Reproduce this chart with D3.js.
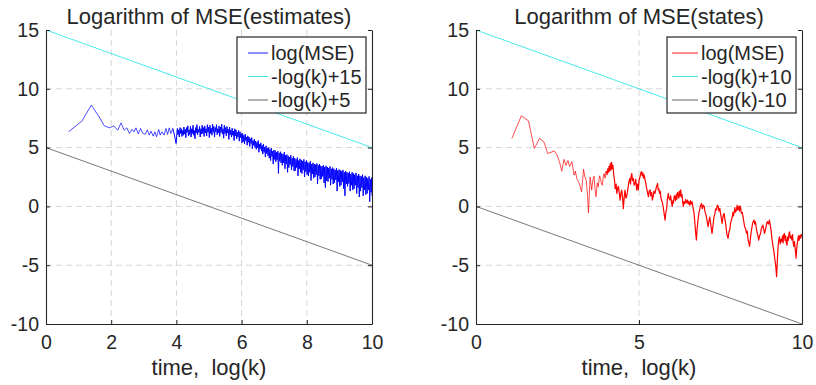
<!DOCTYPE html>
<html>
<head>
<meta charset="utf-8">
<script src="https://cdn.jsdelivr.net/npm/d3@7"></script>
<style>
  body { margin: 0; background: #fff; }
  svg text { font-family: "Liberation Sans", Arial, Helvetica, sans-serif; fill: #262626; }
</style>
</head>
<body>
<div id="chart"></div>
<script>
// ---- data ----
const yTicks = [-10, -5, 0, 5, 10, 15];
const xTicksEst = [0, 2, 4, 6, 8, 10];
const xTicksState = [0, 5, 10];

const titles = ["Logarithm of MSE(estimates)", "Logarithm of MSE(states)"];
const xLabel = "time,  log(k)";
const legendEst = ["log(MSE)", "-log(k)+15", "-log(k)+5"];
const legendState = ["log(MSE)", "-log(k)+10", "-log(k)-10"];

// reference lines, [t, value] end points
const estUpper = [[0, 15], [10, 5]];
const estLower = [[0, 5], [10, -5]];
const stateUpper = [[0, 15], [10, 5]];
const stateLower = [[0, 0], [10, -10]];

// log(MSE) of estimates, [log(k), value]
const estMse = [
  [0.69,6.34],[1.10,7.25],[1.39,8.61],[1.61,7.70],[1.79,6.85],[1.95,6.68],[2.08,6.85],[2.20,6.48],[2.30,7.1],[2.40,6.48],
  [2.48,6.68],[2.56,6.2],[2.64,6.55],[2.70,6.34],[2.76,6.68],[2.83,6.17],[2.90,6.63],[2.96,6.26],[3.04,6.12],[3.11,6.5],
  [3.17,6.06],[3.22,6.4],[3.29,5.97],[3.34,6.34],[3.39,5.92],[3.46,6.54],[3.50,6.06],[3.56,6.34],[3.62,6.06],[3.68,6.63],
  [3.73,6.12],[3.78,6.68],[3.83,6.2],[3.89,6.63],[3.94,6.06],[3.99,5.35],
  [4.03,6.63],[4.05,6.1],[4.07,6.5],[4.09,5.9],[4.11,6.7],[4.13,6.2],[4.15,6.6],[4.17,5.95],[4.19,6.45],[4.21,6.05],
  [4.23,6.75],[4.25,6.15],[4.27,6.55],[4.29,5.85],[4.31,6.7],[4.33,6.3],[4.35,6.85],[4.37,6.0],[4.39,6.5],[4.41,6.1],
  [4.43,6.8],[4.45,5.9],[4.47,6.6],[4.49,6.2],[4.51,6.9],[4.53,6.05],[4.55,6.45],[4.57,5.75],[4.59,6.7],[4.61,6.25],
  [4.63,6.95],[4.65,6.1],[4.67,6.55],[4.69,6.3],[4.71,6.8],[4.73,5.9],[4.75,6.6],[4.77,6.15],[4.79,6.9],[4.81,6.2],
  [4.83,6.7],[4.85,5.95],[4.87,6.85],[4.89,6.25],[4.91,6.6],[4.93,6.0],[4.95,6.95],[4.97,6.3],[4.99,6.75],[5.01,5.85],
  [5.03,6.9],[5.05,6.2],[5.07,6.65],[5.09,6.05],[5.11,7.0],[5.13,6.3],[5.15,6.8],[5.17,5.9],[5.19,6.7],[5.21,6.35],
  [5.23,6.95],[5.25,6.1],[5.27,6.6],[5.29,6.25],[5.31,6.85],[5.33,5.95],[5.35,6.75],[5.37,6.3],[5.39,7.0],[5.41,6.15],
  [5.43,6.6],[5.45,5.8],[5.47,6.9],[5.49,6.2],[5.51,6.7],[5.53,6.0],[5.55,6.8],[5.57,6.25],[5.59,6.55],[5.61,5.7],
  [5.63,6.75],[5.65,6.1],[5.67,6.5],[5.69,5.9],[5.71,6.65],[5.73,6.05],[5.75,6.4],[5.77,5.6],[5.79,6.6],[5.81,6.0],
  [5.83,6.5],[5.85,5.75],[5.87,6.3],[5.89,5.9],[5.91,6.45],[5.93,5.55],[5.95,6.35],[5.97,5.85],[5.99,6.2],[6.01,5.4],
  [6.03,6.2],[6.05,5.5],[6.07,6.05],[6.09,5.3],[6.11,6.15],[6.13,5.6],[6.15,5.9],[6.17,5.2],[6.19,6.0],[6.21,5.45],
  [6.23,5.9],[6.25,5.1],[6.27,5.75],[6.29,5.35],[6.31,5.85],[6.33,4.9],[6.35,5.6],[6.37,5.2],[6.39,5.7],[6.41,5.0],
  [6.43,5.55],[6.45,4.85],[6.47,5.45],[6.49,5.0],[6.51,5.6],[6.53,4.6],[6.55,5.3],[6.57,4.9],[6.59,5.4],[6.61,4.7],
  [6.63,5.2],[6.65,4.45],[6.67,5.3],[6.69,4.6],[6.71,5.05],[6.73,4.2],[6.75,5.15],[6.77,4.5],[6.79,4.95],[6.81,4.3],
  [6.83,5.0],[6.85,4.1],[6.87,4.85],[6.89,3.9],[6.91,4.95],[6.93,4.25],[6.95,4.7],[6.97,3.6],[6.99,4.8],[7.01,4.0],
  [7.03,4.75],[7.05,3.8],[7.07,4.6],[7.09,3.95],[7.11,4.7],[7.13,2.8],[7.15,4.55],[7.17,3.85],[7.19,4.65],[7.21,3.7],
  [7.23,4.5],[7.25,3.5],[7.27,4.45],[7.29,3.7],[7.31,4.6],[7.33,3.2],[7.35,4.35],[7.37,3.6],[7.39,4.4],[7.41,2.9],
  [7.43,4.3],[7.45,3.3],[7.47,4.2],[7.49,3.55],[7.51,4.35],[7.53,3.1],[7.55,4.1],[7.57,3.4],[7.59,4.25],[7.61,3.0],
  [7.63,4.1],[7.65,3.05],[7.67,4.0],[7.69,3.3],[7.71,4.15],[7.73,2.6],[7.75,3.9],[7.77,3.2],[7.79,4.05],[7.81,2.9],
  [7.83,3.95],[7.85,2.8],[7.87,3.85],[7.89,3.1],[7.91,4.0],[7.93,2.5],[7.95,3.8],[7.97,2.95],[7.99,3.9],[8.01,2.7],
  [8.03,3.75],[8.05,2.6],[8.07,3.7],[8.09,2.9],[8.11,3.85],[8.13,2.2],[8.15,3.6],[8.17,2.75],[8.19,3.7],[8.21,2.4],
  [8.23,3.6],[8.25,2.5],[8.27,3.55],[8.29,2.7],[8.31,3.65],[8.33,1.9],[8.35,3.5],[8.37,2.6],[8.39,3.6],[8.41,2.3],
  [8.43,3.45],[8.45,2.35],[8.47,3.4],[8.49,2.55],[8.51,3.5],[8.53,2.0],[8.55,3.35],[8.57,1.6],[8.59,3.45],[8.61,2.2],
  [8.63,3.35],[8.65,2.1],[8.67,3.25],[8.69,2.4],[8.71,3.4],[8.73,1.8],[8.75,3.2],[8.77,2.3],[8.79,3.3],[8.81,1.9],
  [8.83,3.2],[8.85,2.0],[8.87,3.1],[8.89,2.25],[8.91,3.25],[8.93,1.3],[8.95,3.05],[8.97,2.1],[8.99,3.15],[9.01,1.7],
  [9.03,3.05],[9.05,1.8],[9.07,3.0],[9.09,2.1],[9.11,3.1],[9.13,1.5],[9.15,2.9],[9.17,0.9],[9.19,3.0],[9.21,1.9],
  [9.23,2.9],[9.25,1.7],[9.27,2.85],[9.29,1.95],[9.31,2.95],[9.33,1.3],[9.35,2.75],[9.37,1.8],[9.39,2.9],[9.41,1.4],
  [9.43,2.8],[9.45,1.5],[9.47,2.7],[9.49,1.8],[9.51,2.85],[9.53,1.1],[9.55,2.6],[9.57,1.6],[9.59,2.75],[9.61,0.8],
  [9.63,2.6],[9.65,1.3],[9.67,2.55],[9.69,1.6],[9.71,2.7],[9.73,0.9],[9.75,2.45],[9.77,1.4],[9.79,2.6],[9.81,1.0],
  [9.83,2.5],[9.85,1.1],[9.87,2.4],[9.89,1.4],[9.91,2.55],[9.93,0.4],[9.95,2.3],[9.97,1.2],[9.99,2.45],[10.0,0.9]
];

// log(MSE) of states, [log(k), value]
const stateMse = [
  [1.10,5.78],[1.39,7.70],[1.61,7.27],[1.79,4.93],[1.95,5.78],[2.08,5.5],[2.20,4.5],[2.30,4.6],[2.40,4.72],[2.48,4.4],
  [2.56,3.8],[2.63,3.0],[2.70,4.0],[2.76,3.49],[2.82,3.9],[2.87,3.4],[2.94,3.8],[3.01,2.66],[3.05,3.0],[3.09,2.38],
  [3.17,1.95],[3.24,1.24],[3.30,3.17],[3.34,2.5],[3.38,2.24],[3.42,1.0],[3.45,-0.54],[3.50,2.5],[3.55,1.38],[3.58,2.2],
  [3.62,2.57],[3.65,1.5],[3.68,0.82],[3.72,2.0],[3.75,1.66],[3.79,2.6],[3.82,2.37],[3.85,1.9],[3.88,1.8],[3.90,2.5],
  [3.93,2.8],[3.96,2.4],[3.99,3.0],[4.02,2.7],[4.04,3.2],[4.06,2.9],[4.08,3.4],[4.10,3.0],[4.12,3.65],[4.14,3.1],
  [4.16,3.75],[4.18,3.2],[4.20,3.5],[4.22,2.8],[4.25,2.2],[4.27,1.5],[4.30,1.9],[4.32,1.1],[4.35,1.6],[4.37,1.7],
  [4.40,1.0],[4.42,0.53],[4.45,1.2],[4.47,1.38],[4.50,0.6],[4.52,-0.19],[4.55,0.9],[4.57,1.38],[4.60,0.7],[4.62,0.82],
  [4.65,1.3],[4.67,1.7],[4.69,2.1],[4.72,2.37],[4.74,1.9],[4.76,2.6],[4.78,2.8],[4.80,2.2],[4.83,2.37],[4.85,1.8],
  [4.88,1.95],[4.90,2.3],[4.93,1.4],[4.95,1.9],[4.98,1.4],[5.00,2.2],[5.03,2.5],[5.06,2.9],[5.08,2.94],[5.10,2.6],
  [5.12,2.85],[5.14,2.4],[5.16,2.66],[5.19,2.2],[5.21,1.95],[5.23,1.6],[5.26,1.2],[5.29,0.82],[5.31,1.3],[5.34,1.4],
  [5.36,0.9],[5.39,1.2],[5.41,0.54],[5.44,0.9],[5.46,1.3],[5.49,1.1],[5.52,1.5],[5.54,1.7],[5.57,1.95],[5.59,1.4],
  [5.61,1.5],[5.63,1.1],[5.65,1.3],[5.67,0.8],[5.69,0.54],[5.72,0.3],[5.74,0.0],[5.77,-0.6],[5.80,-1.16],[5.82,-0.6],
  [5.85,-0.17],[5.87,0.6],[5.90,1.1],[5.92,0.7],[5.95,0.54],[5.97,0.9],[6.00,0.3],[6.02,0.0],[6.04,0.5],[6.06,0.3],
  [6.08,0.9],[6.10,0.82],[6.12,0.5],[6.14,1.0],[6.16,0.6],[6.18,1.2],[6.20,1.1],[6.22,0.7],[6.24,1.3],[6.26,0.9],
  [6.28,1.4],[6.30,0.8],[6.32,1.0],[6.34,0.4],[6.36,0.0],[6.38,0.4],[6.41,0.25],[6.43,0.6],[6.46,0.3],[6.49,0.54],
  [6.51,0.2],[6.53,0.4],[6.56,0.1],[6.58,0.5],[6.60,0.2],[6.63,0.4],[6.65,0.0],[6.67,-0.3],[6.69,-0.6],[6.72,-1.6],
  [6.74,-2.3],[6.76,-2.86],[6.78,-2.0],[6.81,-1.16],[6.83,-0.7],[6.85,-0.4],[6.87,-0.17],[6.89,0.1],[6.92,0.25],[6.94,-0.2],
  [6.97,0.1],[7.00,0.0],[7.02,-0.4],[7.05,-0.7],[7.07,-0.9],[7.10,-1.4],[7.12,-1.73],[7.15,-1.2],[7.17,-0.9],[7.20,-1.5],
  [7.22,-1.9],[7.24,-2.3],[7.27,-1.6],[7.30,-0.9],[7.33,-0.6],[7.35,-0.2],[7.38,-0.3],[7.40,0.1],[7.43,0.0],[7.45,-0.4],
  [7.48,-0.17],[7.50,-0.6],[7.52,-0.9],[7.55,-1.45],[7.57,-1.0],[7.59,-0.7],[7.61,-0.6],[7.63,-1.0],[7.66,-1.5],[7.68,-2.0],
  [7.70,-2.4],[7.73,-2.72],[7.76,-2.2],[7.79,-1.88],[7.81,-1.4],[7.84,-1.1],[7.86,-0.9],[7.88,-0.5],[7.90,-0.8],[7.92,-0.45],
  [7.94,-0.1],[7.96,-0.5],[7.99,-0.3],[8.01,0.1],[8.03,-0.3],[8.06,0.0],[8.08,-0.4],[8.10,0.05],[8.12,-0.17],[8.14,-0.6],
  [8.17,-0.5],[8.19,-0.9],[8.21,-1.2],[8.24,-1.73],[8.27,-1.9],[8.30,-2.3],[8.32,-2.1],[8.35,-2.9],[8.37,-3.1],[8.39,-3.4],
  [8.42,-2.7],[8.44,-2.2],[8.46,-1.88],[8.48,-1.5],[8.50,-1.3],[8.53,-1.16],[8.55,-1.5],[8.57,-1.3],[8.60,-1.88],[8.62,-2.2],
  [8.65,-2.5],[8.67,-2.86],[8.70,-2.5],[8.73,-2.3],[8.75,-1.9],[8.78,-1.7],[8.80,-1.6],[8.83,-2.0],[8.85,-2.3],[8.87,-2.1],
  [8.90,-1.7],[8.92,-1.4],[8.94,-1.3],[8.97,-1.5],[9.00,-1.16],[9.02,-1.5],[9.05,-2.0],[9.08,-2.8],[9.10,-3.2],[9.13,-3.7],
  [9.15,-4.1],[9.17,-4.56],[9.20,-5.2],[9.22,-5.97],[9.24,-4.8],[9.26,-3.7],[9.28,-3.0],[9.31,-2.58],[9.33,-3.2],[9.35,-2.8],
  [9.38,-3.0],[9.40,-2.5],[9.42,-3.1],[9.44,-2.4],[9.46,-2.3],[9.48,-2.9],[9.50,-2.5],[9.52,-3.1],[9.54,-3.3],[9.56,-2.6],
  [9.58,-2.9],[9.60,-2.3],[9.62,-2.16],[9.64,-2.7],[9.66,-2.5],[9.69,-2.86],[9.71,-2.4],[9.73,-3.1],[9.75,-3.4],[9.77,-3.0],
  [9.79,-3.6],[9.82,-4.4],[9.84,-3.5],[9.87,-2.86],[9.89,-2.5],[9.91,-2.9],[9.94,-2.44],[9.96,-2.7],[9.98,-2.4],[10.0,-2.5]
];

// ---- drawing ----
const width = 816, height = 385;
const plotTop = 30, plotBottom = 324;
const ink = "#262626";
const cyan = "#33e6e6";
const gray = "#555";

const svg = d3.select("#chart").append("svg")
  .attr("width", width)
  .attr("height", height);

function drawPanel(opt) {
  const x = d3.scaleLinear().domain([0, 10]).range([opt.left, opt.right]);
  const y = d3.scaleLinear().domain([-10, 15]).range([plotBottom, plotTop]);
  const g = svg.append("g");

  // dashed grid
  g.append("g").selectAll("line")
    .data(opt.xTicks.filter(d => d > 0 && d < 10))
    .join("line")
    .attr("x1", d => x(d)).attr("x2", d => x(d))
    .attr("y1", plotTop).attr("y2", plotBottom)
    .attr("stroke", "#d6d6d6").attr("stroke-width", 1)
    .attr("stroke-dasharray", "6,4");
  g.append("g").selectAll("line")
    .data(yTicks.filter(d => d > -10 && d < 15))
    .join("line")
    .attr("x1", opt.left).attr("x2", opt.right)
    .attr("y1", d => y(d)).attr("y2", d => y(d))
    .attr("stroke", "#d6d6d6").attr("stroke-width", 1)
    .attr("stroke-dasharray", "6,4");

  const line = d3.line().x(d => x(d[0])).y(d => y(d[1]));

  // sparse start thin, the dense noisy part a little heavier
  const sparse = opt.mse.filter(d => d[0] <= opt.denseFrom);
  const dense = opt.mse.filter(d => d[0] >= sparse[sparse.length - 1][0]);
  g.append("path").datum(sparse)
    .attr("d", line).attr("fill", "none")
    .attr("stroke", opt.color).attr("stroke-width", 0.7)
    .attr("stroke-linejoin", "round");
  g.append("path").datum(dense)
    .attr("d", line).attr("fill", "none")
    .attr("stroke", opt.color).attr("stroke-width", opt.denseWidth)
    .attr("stroke-linejoin", "round");
  g.append("path").datum(opt.upper)
    .attr("d", line).attr("fill", "none")
    .attr("stroke", cyan).attr("stroke-width", 0.9);
  g.append("path").datum(opt.lower)
    .attr("d", line).attr("fill", "none")
    .attr("stroke", gray).attr("stroke-width", 0.8);

  // axes
  const fmt = d => String(d);
  const xAxis = g.append("g")
    .attr("transform", "translate(0," + plotBottom + ")")
    .call(d3.axisBottom(x).tickValues(opt.xTicks).tickFormat(fmt)
      .tickSizeInner(-4).tickSizeOuter(0).tickPadding(11));
  const yAxis = g.append("g")
    .attr("transform", "translate(" + opt.left + ",0)")
    .call(d3.axisLeft(y).tickValues(yTicks).tickFormat(fmt)
      .tickSizeInner(-4).tickSizeOuter(0).tickPadding(7));
  const yAxisR = g.append("g")
    .attr("transform", "translate(" + opt.right + ",0)")
    .call(d3.axisRight(y).tickValues(yTicks).tickFormat("")
      .tickSizeInner(-4).tickSizeOuter(0));
  [xAxis, yAxis, yAxisR].forEach(a => {
    a.select(".domain").attr("stroke", ink).attr("stroke-width", 1.1);
    a.selectAll(".tick line").attr("stroke", ink);
    a.selectAll("text").attr("font-size", 19.5).style("fill", ink);
  });

  // title and x label
  g.append("text")
    .attr("x", (opt.left + opt.right) / 2).attr("y", 24)
    .attr("text-anchor", "middle").attr("font-size", 22)
    .text(opt.title);
  g.append("text")
    .attr("x", (opt.left + opt.right) / 2).attr("y", 375)
    .attr("text-anchor", "middle").attr("font-size", 22)
    .style("white-space", "pre")
    .text(xLabel);

  // legend
  const lg = g.append("g").attr("transform", "translate(" + opt.legendX + ",37)");
  lg.append("rect")
    .attr("width", 129).attr("height", 76)
    .attr("fill", "#fff").attr("stroke", ink).attr("stroke-width", 1.2);
  const colors = [opt.color, cyan, gray];
  opt.legend.forEach((label, i) => {
    const cy = 16 + i * 23.5;
    lg.append("line")
      .attr("x1", opt.sampleX1).attr("x2", opt.sampleX2)
      .attr("y1", cy).attr("y2", cy)
      .attr("stroke", colors[i]).attr("stroke-width", 0.9);
    lg.append("text")
      .attr("x", opt.sampleX2 + 3).attr("y", cy + 7)
      .attr("font-size", 20)
      .text(label);
  });
}

drawPanel({
  left: 46, right: 372, xTicks: xTicksEst, title: titles[0],
  mse: estMse, upper: estUpper, lower: estLower, color: "#0000ff",
  denseFrom: 3.9, denseWidth: 1.0,
  legend: legendEst, legendX: 237, sampleX1: 11, sampleX2: 31
});
drawPanel({
  left: 476, right: 802, xTicks: xTicksState, title: titles[1],
  mse: stateMse, upper: stateUpper, lower: stateLower, color: "#ff0000",
  denseFrom: 4.0, denseWidth: 1.2,
  legend: legendState, legendX: 667, sampleX1: 5, sampleX2: 31
});
</script>
</body>
</html>
